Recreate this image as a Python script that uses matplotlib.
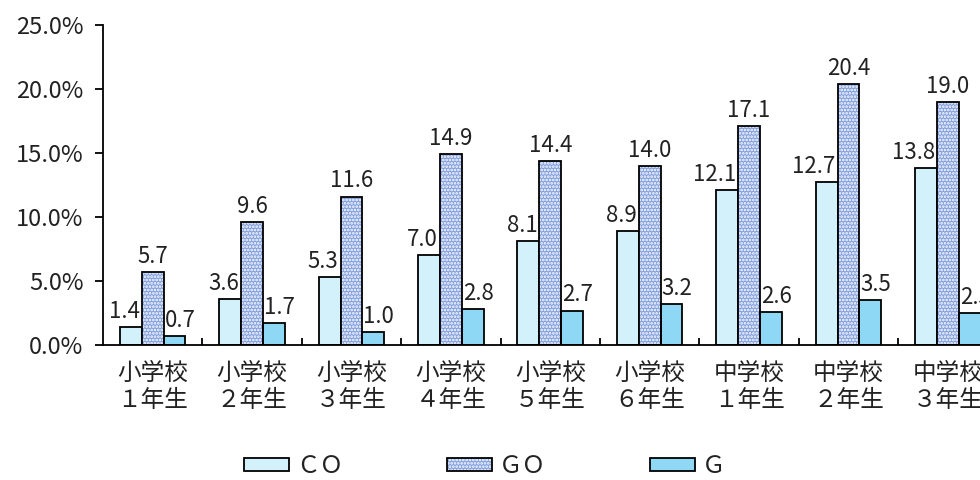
import matplotlib
matplotlib.use("Agg")
import numpy as np
import matplotlib.pyplot as plt
from matplotlib.patches import Patch
from matplotlib.ticker import FuncFormatter, FixedLocator

plt.rcParams['font.family'] = ['Noto Sans CJK JP', 'DejaVu Sans']
plt.rcParams['hatch.linewidth'] = 1.3

# データ
categories = ['小学校\n１年生', '小学校\n２年生', '小学校\n３年生', '小学校\n４年生',
              '小学校\n５年生', '小学校\n６年生', '中学校\n１年生', '中学校\n２年生',
              '中学校\n３年生']
co_values = [1.4, 3.6, 5.3, 7.0, 8.1, 8.9, 12.1, 12.7, 13.8]
go_values = [5.7, 9.6, 11.6, 14.9, 14.4, 14.0, 17.1, 20.4, 19.0]
g_values = [0.7, 1.7, 1.0, 2.8, 2.7, 3.2, 2.6, 3.5, 2.5]
series_names = ['ＣＯ', 'ＧＯ', 'Ｇ']

co_color = '#d3f1fb'
go_color = '#829fdf'
g_color = '#8fd8f5'
text_color = '#222222'

fig = plt.figure(figsize=(9.8, 4.8), dpi=100)
ax = fig.add_axes([0.105, 0.281, 0.913, 0.667])

x = np.arange(len(categories))
w = 0.22

ax.bar(x - w, co_values, w, color=co_color, edgecolor='black', linewidth=1.3, zorder=2)
# GO: 青地に白いドット
ax.bar(x, go_values, w, color=go_color, edgecolor='white', hatch='.....',
       linewidth=0, zorder=2)
ax.bar(x, go_values, w, fill=False, edgecolor='black', linewidth=1.3, zorder=3)
ax.bar(x + w, g_values, w, color=g_color, edgecolor='black', linewidth=1.3, zorder=2)

lab_kw = dict(textcoords='offset points', va='bottom', fontsize=16, color=text_color)
for i in range(len(categories)):
    ax.annotate(f'{co_values[i]:.1f}', (x[i] - w + 0.09, co_values[i]),
                xytext=(0, 3), ha='right', **lab_kw)
    ax.annotate(f'{go_values[i]:.1f}', (x[i], go_values[i]),
                xytext=(0, 3), ha='center', **lab_kw)
    ax.annotate(f'{g_values[i]:.1f}', (x[i] + w - 0.1, g_values[i]),
                xytext=(0, 3), ha='left', **lab_kw)

ax.set_xlim(-0.5, len(categories) - 0.5)
ax.set_ylim(0, 25)
ax.set_yticks([0, 5, 10, 15, 20, 25])
ax.yaxis.set_major_formatter(FuncFormatter(lambda v, p: f'{v:.1f}%'))
ax.tick_params(axis='y', direction='out', length=6, width=1.3, labelsize=17,
               colors='black', labelcolor=text_color, pad=8)

ax.set_xticks(x)
ax.set_xticklabels(categories, fontsize=17, color=text_color, linespacing=1.25)
ax.tick_params(axis='x', which='major', length=0, pad=12)
ax.xaxis.set_minor_locator(FixedLocator(np.arange(0.5, len(categories) - 0.5, 1)))
ax.tick_params(axis='x', which='minor', direction='in', length=5, width=1.3)

for side in ['top', 'right']:
    ax.spines[side].set_visible(False)
for side in ['left', 'bottom']:
    ax.spines[side].set_linewidth(1.3)

go_handle = (Patch(facecolor=go_color, edgecolor='white', hatch='.....', linewidth=0),
             Patch(fill=False, edgecolor='black', linewidth=1.3))
handles = [Patch(facecolor=co_color, edgecolor='black', linewidth=1.3),
           go_handle,
           Patch(facecolor=g_color, edgecolor='black', linewidth=1.3)]
leg = fig.legend(handles, series_names, loc='center', bbox_to_anchor=(0.495, 0.028),
                 ncol=3, frameon=False, fontsize=17, handlelength=1.9,
                 handleheight=0.45, handletextpad=0.3, columnspacing=4.4)
for t in leg.get_texts():
    t.set_color(text_color)

fig.savefig('out.png', dpi=100)
